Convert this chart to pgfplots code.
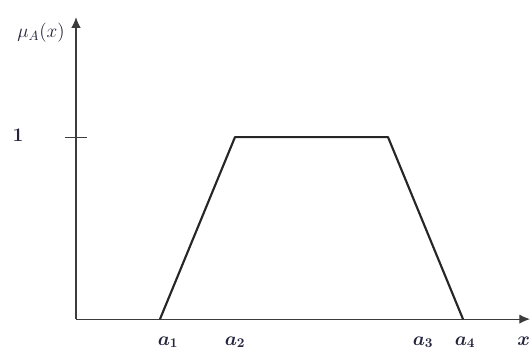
\documentclass[border=0pt]{standalone}
\usepackage{pgfplots}
\pgfplotsset{compat=1.18}
\usepackage{bm}
\usetikzlibrary{arrows.meta}
\definecolor{lbl}{RGB}{35,35,60}
\definecolor{axc}{RGB}{60,60,60}
\begin{document}
\begin{tikzpicture}
\begin{axis}[
  scale only axis,
  width=340.5pt, height=226.5pt,
  xmin=0, xmax=454, ymin=0, ymax=1.659,
  axis lines=left,
  axis line style={axc, line width=0.8pt, -{Latex[length=8pt,width=7pt]}},
  xtick={92,159,347,389},
  xticklabels={$\bm{a_1}$,$\bm{a_2}$,$\bm{a_3}$,$\bm{a_4}$},
  xtick style={draw=none},
  ytick={1},
  yticklabels={},
  ytick style={axc, line width=0.8pt},
  major tick length=17pt,
  tick align=center,
  xticklabel style={yshift=-1pt},
  tick label style={font=\Large, text=lbl},
  clip=false,
]
\addplot[black!85, line width=1.6pt, line join=round] coordinates {(84,0) (159,1) (312,1) (387,0)};
\node[font=\Large, text=lbl] at (axis cs:-58,1.01) {$\bm{1}$};
\node[font=\Large, text=lbl] at (axis cs:-35,1.571) {$\mu_{A}(x)$};
\node[font=\Large, text=lbl, anchor=east, inner sep=0.5pt] at (axis cs:455,-0.12) {$\bm{x}$};
\useasboundingbox (axis cs:-76,-0.165) rectangle (axis cs:455,1.753);
\end{axis}
\end{tikzpicture}
\end{document}
